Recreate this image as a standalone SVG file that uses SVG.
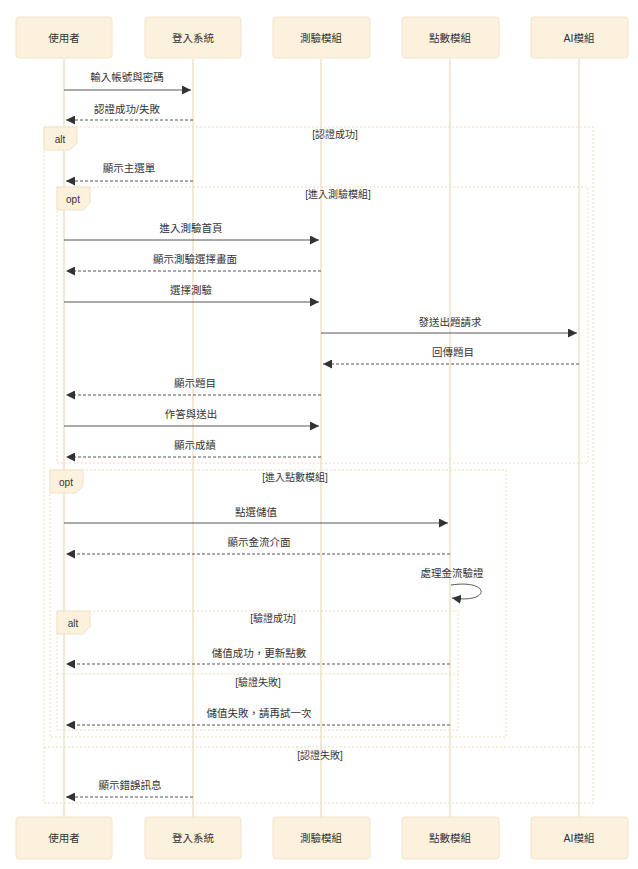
<svg xmlns="http://www.w3.org/2000/svg" width="638" height="869" viewBox="0 0 638 869">
  <style>
    text { font-family: "Liberation Sans", "Noto Sans CJK TC", sans-serif; fill: #333; }
    .actor { fill: #fcf1dd; stroke: #f3e4c8; stroke-width: 1; }
    .actor-text { font-size: 10.5px; text-anchor: middle; dominant-baseline: central; }
    .lifeline { stroke: #f0e1c6; stroke-width: 1.5; }
    .msg { stroke: #555; stroke-width: 1; fill: none; }
    .dashed { stroke-dasharray: 3 2; }
    .msg-text { font-size: 10.5px; text-anchor: middle; }
    .frame { fill: none; stroke: #ecdfbd; stroke-width: 1; stroke-dasharray: 2 2; }
    .tab { fill: #fcf1dd; stroke: #f0e1c6; stroke-width: 1; }
    .tab-text { font-size: 10px; text-anchor: middle; dominant-baseline: central; }
    .cond { font-size: 10px; text-anchor: middle; }
  </style>
  <defs>
    <marker id="arrowhead" viewBox="0 0 10 10" refX="10" refY="5" markerWidth="9" markerHeight="9" markerUnits="userSpaceOnUse" orient="auto">
      <path d="M0,0 L10,5 L0,10 z" fill="#333"/>
    </marker>
  </defs>

  <rect width="638" height="869" fill="#ffffff"/>

  <!-- lifelines -->
  <g id="lifelines">
    <line class="lifeline" x1="64" y1="59" x2="64" y2="817"/>
    <line class="lifeline" x1="193" y1="59" x2="193" y2="817"/>
    <line class="lifeline" x1="321" y1="59" x2="321" y2="817"/>
    <line class="lifeline" x1="450" y1="59" x2="450" y2="817"/>
    <line class="lifeline" x1="579" y1="59" x2="579" y2="817"/>
  </g>

  <!-- participants, top row -->
  <g id="user">
    <rect class="actor" x="16" y="17" width="96" height="41" rx="3"/>
    <text class="actor-text" x="64" y="38">使用者</text>
  </g>
  <g id="login">
    <rect class="actor" x="145" y="17" width="96" height="41" rx="3"/>
    <text class="actor-text" x="193" y="38">登入系統</text>
  </g>
  <g id="quiz">
    <rect class="actor" x="273" y="17" width="97" height="41" rx="3"/>
    <text class="actor-text" x="321" y="38">測驗模組</text>
  </g>
  <g id="points">
    <rect class="actor" x="402" y="17" width="97" height="41" rx="3"/>
    <text class="actor-text" x="450" y="38">點數模組</text>
  </g>
  <g id="ai">
    <rect class="actor" x="531" y="17" width="97" height="41" rx="3"/>
    <text class="actor-text" x="579" y="38">AI模組</text>
  </g>

  <!-- participants, bottom row -->
  <g id="user-bottom">
    <rect class="actor" x="16" y="817" width="96" height="42" rx="3"/>
    <text class="actor-text" x="64" y="838">使用者</text>
  </g>
  <g id="login-bottom">
    <rect class="actor" x="145" y="817" width="96" height="42" rx="3"/>
    <text class="actor-text" x="193" y="838">登入系統</text>
  </g>
  <g id="quiz-bottom">
    <rect class="actor" x="273" y="817" width="97" height="42" rx="3"/>
    <text class="actor-text" x="321" y="838">測驗模組</text>
  </g>
  <g id="points-bottom">
    <rect class="actor" x="402" y="817" width="97" height="42" rx="3"/>
    <text class="actor-text" x="450" y="838">點數模組</text>
  </g>
  <g id="ai-bottom">
    <rect class="actor" x="531" y="817" width="97" height="42" rx="3"/>
    <text class="actor-text" x="579" y="838">AI模組</text>
  </g>

  <!-- combined fragments -->
  <g id="alt-auth">
    <rect class="frame" x="44" y="127" width="549" height="676"/>
    <polygon class="tab" points="44,127 77,127 77,143 70,150 44,150"/>
    <text class="tab-text" x="60" y="139">alt</text>
    <text class="cond" x="335" y="138">[認證成功]</text>
    <line class="frame" x1="44" y1="747" x2="593" y2="747"/>
    <text class="cond" x="320" y="759">[認證失敗]</text>
  </g>
  <g id="opt-quiz">
    <rect class="frame" x="57" y="187" width="531" height="276"/>
    <polygon class="tab" points="57,187 90,187 90,203 83,210 57,210"/>
    <text class="tab-text" x="73" y="199">opt</text>
    <text class="cond" x="338" y="198">[進入測驗模組]</text>
  </g>
  <g id="opt-points">
    <rect class="frame" x="50" y="470" width="456" height="267"/>
    <polygon class="tab" points="50,470 83,470 83,486 76,493 50,493"/>
    <text class="tab-text" x="66" y="482">opt</text>
    <text class="cond" x="295" y="481">[進入點數模組]</text>
  </g>
  <g id="alt-verify">
    <rect class="frame" x="57" y="611" width="401" height="119"/>
    <polygon class="tab" points="57,611 90,611 90,627 83,634 57,634"/>
    <text class="tab-text" x="73" y="623">alt</text>
    <text class="cond" x="273" y="622">[驗證成功]</text>
    <line class="frame" x1="57" y1="674" x2="458" y2="674"/>
    <text class="cond" x="258" y="686">[驗證失敗]</text>
  </g>

  <!-- messages -->
  <g id="connectors">
    <text class="msg-text" x="127" y="81">輸入帳號與密碼</text>
    <line class="msg" x1="64" y1="90" x2="191" y2="90" marker-end="url(#arrowhead)"/>

    <text class="msg-text" x="127" y="113">認證成功/失敗</text>
    <line class="msg dashed" x1="193" y1="120" x2="66" y2="120" marker-end="url(#arrowhead)"/>

    <text class="msg-text" x="129" y="172">顯示主選單</text>
    <line class="msg dashed" x1="193" y1="181" x2="66" y2="181" marker-end="url(#arrowhead)"/>

    <text class="msg-text" x="191" y="232">進入測驗首頁</text>
    <line class="msg" x1="64" y1="240" x2="319" y2="240" marker-end="url(#arrowhead)"/>

    <text class="msg-text" x="195" y="263">顯示測驗選擇畫面</text>
    <line class="msg dashed" x1="321" y1="271" x2="66" y2="271" marker-end="url(#arrowhead)"/>

    <text class="msg-text" x="191" y="294">選擇測驗</text>
    <line class="msg" x1="64" y1="302" x2="319" y2="302" marker-end="url(#arrowhead)"/>

    <text class="msg-text" x="450" y="326">發送出題請求</text>
    <line class="msg" x1="321" y1="333" x2="577" y2="333" marker-end="url(#arrowhead)"/>

    <text class="msg-text" x="453" y="356">回傳題目</text>
    <line class="msg dashed" x1="579" y1="364" x2="323" y2="364" marker-end="url(#arrowhead)"/>

    <text class="msg-text" x="195" y="387">顯示題目</text>
    <line class="msg dashed" x1="321" y1="395" x2="66" y2="395" marker-end="url(#arrowhead)"/>

    <text class="msg-text" x="191" y="418">作答與送出</text>
    <line class="msg" x1="64" y1="426" x2="319" y2="426" marker-end="url(#arrowhead)"/>

    <text class="msg-text" x="195" y="449">顯示成績</text>
    <line class="msg dashed" x1="321" y1="457" x2="66" y2="457" marker-end="url(#arrowhead)"/>

    <text class="msg-text" x="256" y="516">點選儲值</text>
    <line class="msg" x1="64" y1="523" x2="448" y2="523" marker-end="url(#arrowhead)"/>

    <text class="msg-text" x="259" y="546">顯示金流介面</text>
    <line class="msg dashed" x1="450" y1="554" x2="66" y2="554" marker-end="url(#arrowhead)"/>

    <text class="msg-text" x="452" y="577">處理金流驗證</text>
    <path class="msg" d="M451,585 C491,579 491,604 452,598" marker-end="url(#arrowhead)"/>

    <text class="msg-text" x="259" y="657">儲值成功，更新點數</text>
    <line class="msg dashed" x1="450" y1="664" x2="66" y2="664" marker-end="url(#arrowhead)"/>

    <text class="msg-text" x="259" y="717">儲值失敗，請再試一次</text>
    <line class="msg dashed" x1="450" y1="725" x2="66" y2="725" marker-end="url(#arrowhead)"/>

    <text class="msg-text" x="130" y="789">顯示錯誤訊息</text>
    <line class="msg dashed" x1="193" y1="797" x2="66" y2="797" marker-end="url(#arrowhead)"/>
  </g>
</svg>
